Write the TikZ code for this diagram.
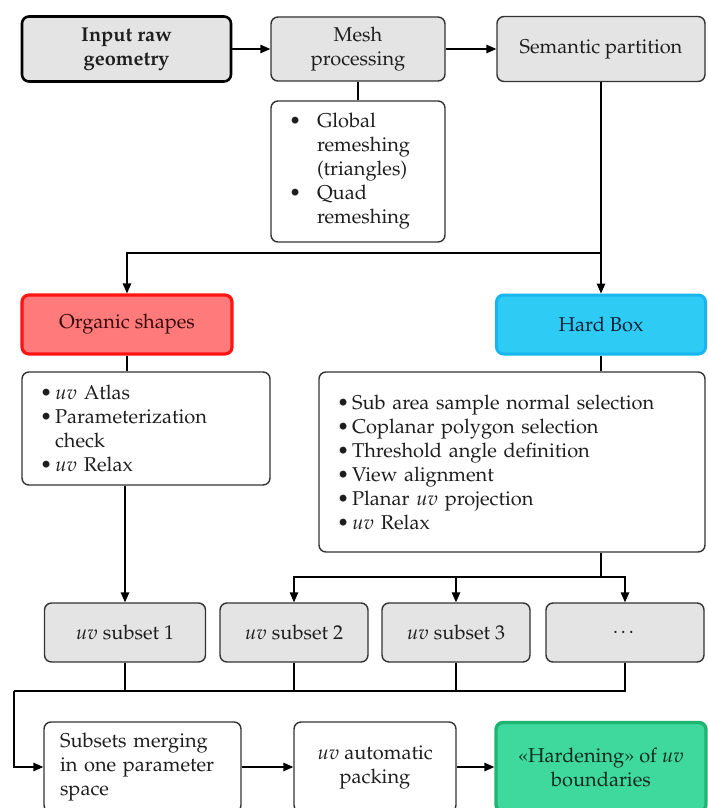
\documentclass[tikz,border=0pt]{standalone}
\usepackage[T1]{fontenc}
\usepackage{mathpazo}
\usetikzlibrary{arrows.meta}

\definecolor{boxgray}{HTML}{E4E4E4}
\definecolor{linegray}{HTML}{333333}
\definecolor{textdark}{HTML}{1E1E1E}
\definecolor{organicfill}{HTML}{FF7B7B}
\definecolor{organicline}{HTML}{FF1414}
\definecolor{organictext}{HTML}{3A0A0A}
\definecolor{hardfill}{HTML}{2ECCF4}
\definecolor{hardline}{HTML}{18B6EE}
\definecolor{hardtext}{HTML}{0B2238}
\definecolor{finalfill}{HTML}{3FD89D}
\definecolor{finalline}{HTML}{1EB572}
\definecolor{finaltext}{HTML}{0B2A1C}

\newcommand{\diagfont}{\fontsize{20}{24}\selectfont}
% bullet in a fixed-width box, for hanging lists
\newcommand{\bul}[1]{\makebox[#1][l]{\textbullet}}

\begin{document}
\begin{tikzpicture}[x=1pt,y=-1pt,
  every node/.style={font=\diagfont, inner sep=0pt},
  box/.style={draw=linegray, line width=1.4pt, rounded corners=7pt, align=center, text=textdark},
  graybox/.style={box, fill=boxgray},
  whitebox/.style={box, fill=white},
  listbox/.style={box, fill=white, align=left, inner xsep=18pt},
  startbox/.style={box, fill=boxgray, draw=black, line width=2.6pt, font=\diagfont\bfseries},
  organicbox/.style={box, fill=organicfill, draw=organicline, line width=3.2pt, text=organictext},
  hardbox/.style={box, fill=hardfill, draw=hardline, line width=3pt, text=hardtext},
  finalbox/.style={box, fill=finalfill, draw=finalline, line width=3.4pt, text=finaltext},
  conn/.style={draw=black, line width=1.4pt},
  arr/.style={conn, -{Triangle[length=10pt,width=8.5pt]}},
]
\useasboundingbox (0,0) rectangle (708,808);
\clip (0,0) rectangle (708,808);
\fill[white] (0,0) rectangle (708,808);

% top row
\node[startbox, minimum width=209pt, minimum height=65pt] (inp) at (126.5,49) {Input raw\\geometry};
\node[graybox, minimum width=174pt, minimum height=64pt] (mesh) at (358,49) {Mesh\\processing};
\node[graybox, minimum width=208pt, minimum height=65pt] (sem) at (601,49) {Semantic partition};
\node[listbox, text width=138pt, minimum height=141pt] (meshsub) at (358,171.5)
  {\bul{28pt}Global\\\hspace*{28pt}remeshing\\\hspace*{28pt}(triangles)\\\bul{28pt}Quad\\\hspace*{28pt}remeshing};

% the two branches
\node[organicbox, minimum width=210pt, minimum height=59pt] (org) at (127,324.5) {Organic shapes};
\node[hardbox, minimum width=209pt, minimum height=59pt] (hard) at (601,324.5) {Hard Box};
\node[listbox, text width=212pt, minimum height=113pt] (orgsub) at (146,428.5)
  {\bul{15pt}$uv$ Atlas\\\bul{15pt}Parameterization\\\hspace*{15pt}check\\\bul{15pt}$uv$ Relax};
\node[listbox, text width=350pt, minimum height=180pt] (hardsub) at (512,462)
  {\bul{15pt}Sub area sample normal selection\\
   \bul{15pt}Coplanar polygon selection\\
   \bul{15pt}Threshold angle definition\\
   \bul{15pt}View alignment\\
   \bul{15pt}Planar $uv$ projection\\
   \bul{15pt}$uv$ Relax};

% subsets
\node[graybox, minimum width=161pt, minimum height=59pt] (s1) at (125,632.5) {$uv$ subset 1};
\node[graybox, minimum width=148pt, minimum height=59pt] (s2) at (294,632.5) {$uv$ subset 2};
\node[graybox, minimum width=148pt, minimum height=59pt] (s3) at (456,632.5) {$uv$ subset 3};
\node[graybox, minimum width=158pt, minimum height=59pt] (s4) at (625,632.5) {\dots};

% bottom row
\node[whitebox, align=left, text width=165pt, inner xsep=16pt, minimum height=90pt] (merge) at (142.5,767)
  {Subsets merging\\in one parameter\\space};
\node[whitebox, minimum width=162pt, minimum height=90pt] (pack) at (375,767) {$uv$ automatic\\packing};
\node[finalbox, minimum width=210pt, minimum height=89pt] (fin) at (601,767)
  {\guillemotleft Hardening\guillemotright{} of $uv$\\boundaries};

% connectors
\draw[arr] (inp.east) -- (mesh.west);
\draw[arr] (mesh.east) -- (sem.west);
\draw[conn] (mesh.south) -- (meshsub.north);
\coordinate (j1) at (601,253);
\draw[arr] (sem.south) -- (hard.north);
\draw[arr] (j1) -| (org.north);
\draw[conn] (org.south) -- (org.south |- orgsub.north);
\draw[conn] (hard.south) -- (hard.south |- hardsub.north);
\draw[arr] (s1.north |- orgsub.south) -- (s1.north);
\coordinate (j2) at (601,577);
\draw[conn] (hard.south |- hardsub.south) -- (j2);
\draw[arr] (j2) -| (s2.north);
\draw[arr] (j2) -| (s4.north);
\draw[arr] (s3.north |- j2) -- (s3.north);
\coordinate (b0) at (14,691);
\draw[conn] (s4.south) |- (b0);
\draw[conn] (s1.south) -- (s1.south |- b0);
\draw[conn] (s2.south) -- (s2.south |- b0);
\draw[conn] (s3.south) -- (s3.south |- b0);
\draw[arr] (b0) |- (merge.west);
\draw[arr] (merge.east) -- (pack.west);
\draw[arr] (pack.east) -- (fin.west);
\end{tikzpicture}
\end{document}
